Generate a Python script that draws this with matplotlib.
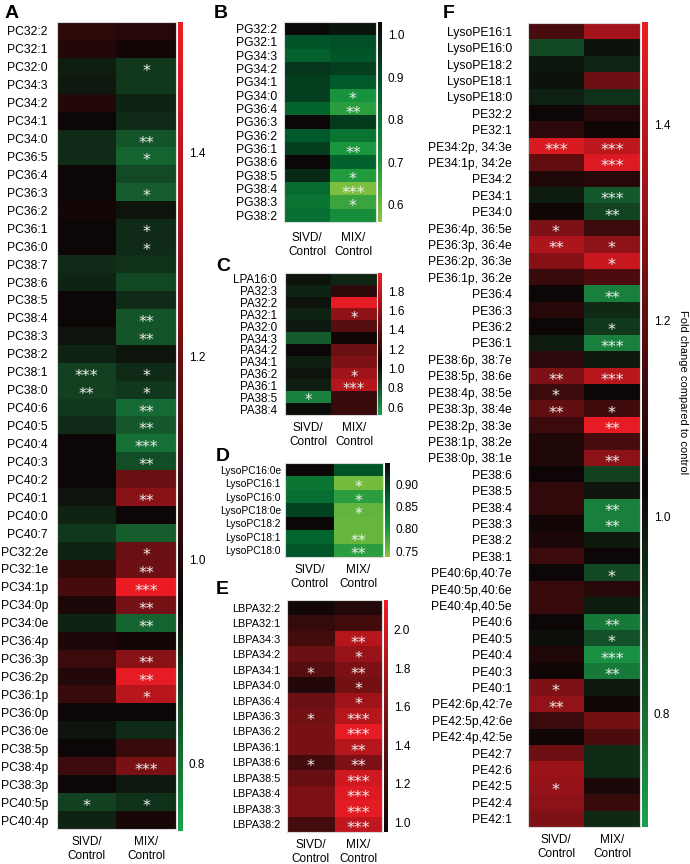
import numpy as np
import matplotlib
matplotlib.use("Agg")
import matplotlib.pyplot as plt
from matplotlib.colors import LinearSegmentedColormap, Normalize
from matplotlib.cm import ScalarMappable
from matplotlib.ticker import FormatStrFormatter
import matplotlib.transforms as mtransforms

plt.rcParams['font.family'] = ['Liberation Sans', 'DejaVu Sans']

columns = ["SIVD/\nControl", "MIX/\nControl"]

# ---------------- Panel A ----------------
a_labels = ["PC32:2", "PC32:1", "PC32:0", "PC34:3", "PC34:2", "PC34:1", "PC34:0", "PC36:5", "PC36:4",
            "PC36:3", "PC36:2", "PC36:1", "PC36:0", "PC38:7", "PC38:6", "PC38:5", "PC38:4", "PC38:3",
            "PC38:2", "PC38:1", "PC38:0", "PC40:6", "PC40:5", "PC40:4", "PC40:3", "PC40:2", "PC40:1",
            "PC40:0", "PC40:7", "PC32:2e", "PC32:1e", "PC34:1p", "PC34:0p", "PC34:0e", "PC36:4p",
            "PC36:3p", "PC36:2p", "PC36:1p", "PC36:0p", "PC36:0e", "PC38:5p", "PC38:4p", "PC38:3p",
            "PC40:5p", "PC40:4p"]
a_sivd = [1.04, 1.01, 0.92, 0.925, 1.01, 0.95, 0.90, 0.90, 0.95, 0.955, 0.97, 0.95, 0.95, 0.90, 0.91,
          0.95, 0.95, 0.93, 0.91, 0.87, 0.87, 0.88, 0.90, 0.95, 0.95, 0.95, 0.93, 0.91, 0.88, 0.91,
          1.04, 1.10, 0.99, 0.91, 1.00, 1.07, 1.01, 1.06, 0.95, 0.93, 0.95, 1.07, 0.95, 0.87, 0.91]
a_mix = [1.02, 0.97, 0.88, 0.88, 0.91, 0.90, 0.84, 0.82, 0.855, 0.83, 0.93, 0.90, 0.90, 0.89, 0.86,
         0.90, 0.84, 0.84, 0.93, 0.90, 0.88, 0.81, 0.835, 0.80, 0.85, 1.19, 1.27, 0.95, 0.83, 1.19,
         1.20, 1.52, 1.22, 0.82, 0.97, 1.27, 1.51, 1.39, 0.95, 0.90, 1.06, 1.23, 0.925, 0.89, 0.98]
a_sig_sivd = [""] * 19 + ["***", "**"] + [""] * 22 + ["*", ""]
a_sig_mix = ["", "", "*", "", "", "", "**", "*", "", "*", "", "*", "*", "", "", "", "**", "**", "",
             "*", "*", "**", "**", "***", "**", "", "**", "", "", "*", "**", "***", "**", "**", "",
             "**", "**", "*", "", "", "", "***", "", "*", ""]
a_ticks = [0.8, 1.0, 1.2, 1.4]

# ---------------- Panel B ----------------
b_labels = ["PG32:2", "PG32:1", "PG34:3", "PG34:2", "PG34:1", "PG34:0", "PG36:4", "PG36:3", "PG36:2",
            "PG36:1", "PG38:6", "PG38:5", "PG38:4", "PG38:3", "PG38:2"]
b_sivd = [1.02, 0.88, 0.85, 0.94, 0.92, 0.92, 0.84, 1.03, 0.87, 0.92, 1.03, 0.96, 0.82, 0.795, 0.81]
b_mix = [1.00, 0.89, 0.875, 0.92, 0.87, 0.71, 0.68, 0.93, 0.795, 0.70, 0.85, 0.69, 0.58, 0.66, 0.725]
b_sig_sivd = [""] * 15
b_sig_mix = ["", "", "", "", "", "*", "**", "", "", "**", "", "*", "***", "*", ""]
b_ticks = [0.6, 0.7, 0.8, 0.9, 1.0]

# ---------------- Panel C ----------------
c_labels = ["LPA16:0", "PA32:3", "PA32:2", "PA32:1", "PA32:0", "PA34:3", "PA34:2", "PA34:1", "PA36:2",
            "PA36:1", "PA38:5", "PA38:4"]
c_sivd = [1.0, 0.955, 1.008, 0.955, 0.986, 0.76, 1.05, 0.97, 1.0, 0.97, 0.626, 1.03]
c_mix = [0.944, 1.19, 1.96, 1.595, 1.36, 1.07, 1.445, 1.52, 1.66, 1.755, 1.238, 1.238]
c_sig_sivd = [""] * 10 + ["*", ""]
c_sig_mix = ["", "", "", "*", "", "", "", "", "*", "***", "", ""]
c_ticks = [0.6, 0.8, 1.0, 1.2, 1.4, 1.6, 1.8]

# ---------------- Panel D ----------------
d_labels = ["LysoPC16:0e", "LysoPC16:1", "LysoPC16:0", "LysoPC18:0e", "LysoPC18:2", "LysoPC18:1",
            "LysoPC18:0"]
d_sivd = [0.945, 0.84, 0.85, 0.895, 0.945, 0.86, 0.878]
d_mix = [0.88, 0.75, 0.79, 0.76, 0.758, 0.758, 0.79]
d_sig_sivd = [""] * 7
d_sig_mix = ["", "*", "*", "*", "", "**", "**"]
d_ticks = [0.75, 0.80, 0.85, 0.90]

# ---------------- Panel E ----------------
e_labels = ["LBPA32:2", "LBPA32:1", "LBPA34:3", "LBPA34:2", "LBPA34:1", "LBPA34:0", "LBPA36:4",
            "LBPA36:3", "LBPA36:2", "LBPA36:1", "LBPA38:6", "LBPA38:5", "LBPA38:4", "LBPA38:3",
            "LBPA38:2"]
e_sivd = [0.985, 1.17, 1.25, 1.455, 1.35, 1.07, 1.455, 1.50, 1.53, 1.53, 1.25, 1.43, 1.55, 1.55, 1.25]
e_mix = [1.07, 1.25, 1.85, 1.70, 1.55, 1.50, 1.745, 1.85, 2.12, 1.85, 1.55, 2.0, 2.07, 2.10, 1.915]
e_sig_sivd = ["", "", "", "", "*", "", "", "*", "", "", "*", "", "", "", ""]
e_sig_mix = ["", "", "**", "*", "**", "*", "*", "***", "***", "**", "**", "***", "***", "***", "***"]
e_ticks = [1.0, 1.2, 1.4, 1.6, 1.8, 2.0]

# ---------------- Panel F ----------------
f_labels = ["LysoPE16:1", "LysoPE16:0", "LysoPE18:2", "LysoPE18:1", "LysoPE18:0", "PE32:2", "PE32:1",
            "PE34:2p, 34:3e", "PE34:1p, 34:2e", "PE34:2", "PE34:1", "PE34:0", "PE36:4p, 36:5e",
            "PE36:3p, 36:4e", "PE36:2p, 36:3e", "PE36:1p, 36:2e", "PE36:4", "PE36:3", "PE36:2",
            "PE36:1", "PE38:6p, 38:7e", "PE38:5p, 38:6e", "PE38:4p, 38:5e", "PE38:3p, 38:4e",
            "PE38:2p, 38:3e", "PE38:1p, 38:2e", "PE38:0p, 38:1e", "PE38:6", "PE38:5", "PE38:4",
            "PE38:3", "PE38:2", "PE38:1", "PE40:6p,40:7e", "PE40:5p,40:6e", "PE40:4p,40:5e",
            "PE40:6", "PE40:5", "PE40:4", "PE40:3", "PE40:1", "PE42:6p,42:7e", "PE42:5p,42:6e",
            "PE42:4p,42:5e", "PE42:7", "PE42:6", "PE42:5", "PE42:4", "PE42:1"]
f_sivd = [1.156, 0.88, 0.994, 1.0, 0.97, 1.03, 1.10, 1.46, 1.21, 1.077, 0.98, 1.04, 1.27, 1.365,
          1.286, 1.12, 1.03, 1.086, 1.03, 0.98, 1.10, 1.27, 1.13, 1.21, 1.13, 1.077, 1.077, 1.035,
          1.11, 1.11, 1.045, 1.063, 1.13, 1.03, 1.12, 1.12, 1.03, 1.01, 1.077, 1.04, 1.27, 1.31,
          1.13, 1.04, 1.235, 1.33, 1.32, 1.30, 1.27]
f_mix = [1.35, 1.0, 0.962, 1.235, 0.933, 1.086, 1.04, 1.40, 1.47, 1.086, 0.844, 0.89, 1.13, 1.30,
         1.425, 1.165, 0.755, 0.95, 0.915, 0.755, 0.987, 1.39, 1.03, 1.14, 1.49, 1.156, 1.30, 0.898,
         0.997, 0.755, 0.755, 0.987, 1.03, 0.88, 1.086, 0.98, 0.773, 0.86, 0.72, 0.773, 0.987, 1.04,
         1.25, 1.165, 0.944, 0.944, 1.063, 1.12, 0.95]
f_sig_sivd = ["", "", "", "", "", "", "", "***", "", "", "", "", "*", "**", "", "", "", "", "", "",
              "", "**", "*", "**", "", "", "", "", "", "", "", "", "", "", "", "", "", "", "", "",
              "*", "**", "", "", "", "", "*", "", ""]
f_sig_mix = ["", "", "", "", "", "", "", "***", "***", "", "***", "**", "", "*", "*", "", "**", "",
             "*", "***", "", "***", "", "*", "**", "", "**", "", "", "**", "**", "", "", "*", "", "",
             "**", "*", "***", "**", "", "", "", "", "", "", "", "", ""]
f_ticks = [0.8, 1.0, 1.2, 1.4]

W, H = 690, 864
fig = plt.figure(figsize=(W / 100, H / 100), dpi=100)


def px_axes(l, t, r, b):
    return fig.add_axes([l / W, 1 - b / H, (r - l) / W, (b - t) / H])


RED = (237 / 255, 28 / 255, 36 / 255)
BLACK = (12 / 255, 6 / 255, 6 / 255)
GREEN = (28 / 255, 160 / 255, 75 / 255)


def rbg_cmap(vmin, vmax, center):
    p = (center - vmin) / (vmax - vmin)
    return LinearSegmentedColormap.from_list("c", [(0, GREEN), (p, BLACK), (1, RED)])


def green_cmap():
    return LinearSegmentedColormap.from_list(
        "g", [(0, (140 / 255, 198 / 255, 62 / 255)), (0.3, (25 / 255, 150 / 255, 62 / 255)),
              (0.65, (0, 92 / 255, 44 / 255)), (1, BLACK)])


def red_cmap():
    return LinearSegmentedColormap.from_list("r", [(0, BLACK), (1, RED)])


def panel(letter, letter_xy, labels, sivd, mix, sig_s, sig_m, hm_box, cb_box, vmin, vmax, cmap,
          ticks, fmt, label_pad, tick_pad=5, label_size=8.7, star_size=11.5):
    ax = px_axes(*hm_box)
    norm = Normalize(vmin=vmin, vmax=vmax)
    data = np.column_stack([sivd, mix])
    ax.imshow(data, cmap=cmap, norm=norm, aspect='auto', interpolation='nearest')
    n = len(labels)
    ax.set_yticks(range(n))
    ax.set_yticklabels(labels, fontsize=label_size)
    ax.set_xticks([0, 1])
    ax.set_xticklabels(columns, fontsize=8.5, linespacing=1.2)
    ax.tick_params(axis='y', length=0, pad=label_pad)
    ax.tick_params(axis='x', length=0, pad=tick_pad)
    for s in ax.spines.values():
        s.set_color('#d9d9d9')
        s.set_linewidth(0.8)
    trans = mtransforms.offset_copy(ax.transData, fig=fig, y=-0.56 * star_size, units='points')
    for i in range(n):
        for j, sig in enumerate((sig_s[i], sig_m[i])):
            if sig:
                ax.text(j, i, sig, color='#f2f2f2', fontsize=star_size, family='DejaVu Sans',
                        ha='center', va='baseline', transform=trans)
    cax = px_axes(*cb_box)
    cb = fig.colorbar(ScalarMappable(norm=norm, cmap=cmap), cax=cax, ticks=ticks)
    cb.outline.set_visible(False)
    cax.tick_params(length=0, pad=4, labelsize=8.5)
    cax.yaxis.set_major_formatter(FormatStrFormatter(fmt))
    fig.text(letter_xy[0] / W, 1 - letter_xy[1] / H, letter, fontsize=14, fontweight='bold',
             ha='left', va='baseline')
    return ax, cax


panel("A", (5, 18), a_labels, a_sivd, a_mix, a_sig_sivd, a_sig_mix,
      (57, 22, 176, 829), (178, 22, 183, 831), 0.734, 1.528, rbg_cmap(0.734, 1.528, 0.95),
      a_ticks, '%.1f', 6.5)
panel("B", (214, 18), b_labels, b_sivd, b_mix, b_sig_sivd, b_sig_mix,
      (284, 22, 376, 222), (378, 22, 382, 222), 0.56, 1.03, green_cmap(),
      b_ticks, '%.1f', 5, tick_pad=7)
panel("C", (216, 271), c_labels, c_sivd, c_mix, c_sig_sivd, c_sig_mix,
      (285, 273, 377, 415), (378, 273, 382, 415), 0.52, 1.99, rbg_cmap(0.52, 1.99, 1.05),
      c_ticks, '%.1f', 6, label_size=8.4, star_size=10.5)
panel("D", (216, 461), d_labels, d_sivd, d_mix, d_sig_sivd, d_sig_mix,
      (285, 463, 383, 557), (385, 463, 390, 557), 0.737, 0.947, green_cmap(),
      d_ticks, '%.2f', 3, label_size=7.4)
panel("E", (216, 594), e_labels, e_sivd, e_mix, e_sig_sivd, e_sig_mix,
      (287, 600, 382, 832), (384, 600, 388, 832), 0.948, 2.156, red_cmap(),
      e_ticks, '%.1f', 5, label_size=7.8)
panel("F", (443, 18), f_labels, f_sivd, f_mix, f_sig_sivd, f_sig_mix,
      (528, 23, 640, 827), (642, 22, 648, 827), 0.684, 1.504, rbg_cmap(0.684, 1.504, 1.03),
      f_ticks, '%.1f', 11.5)

fig.text(683 / W, 1 - 392 / H, "Fold change compared to control", rotation=270, fontsize=8,
         ha='center', va='center')

fig.savefig("out.png", dpi=100)
